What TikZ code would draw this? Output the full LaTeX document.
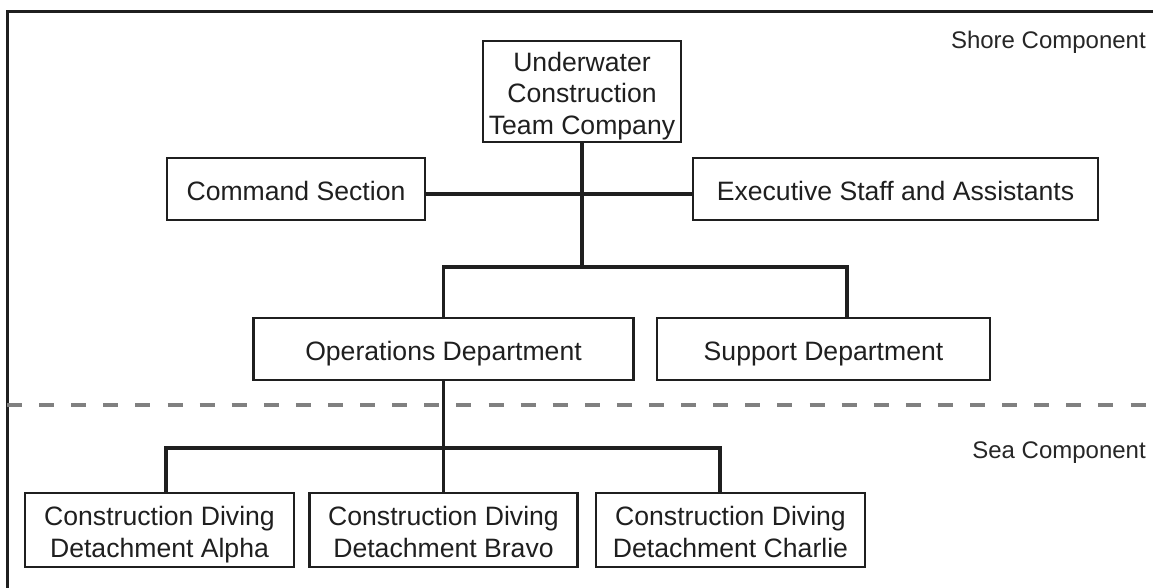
\documentclass[tikz,border=0pt]{standalone}
\usepackage{fontspec}
\setmainfont{Liberation Sans}
\begin{document}
\begin{tikzpicture}[x=1pt,y=-1pt,
  unitbox/.style={draw=black!88, line width=2.6pt, inner sep=0pt, align=center,
    text=black!88, text height=23pt, text depth=0pt,
    font=\fontsize{26.6}{31.7}\selectfont},
  twolines/.style={text height=54.2pt},
  threelines/.style={text height=86.4pt},
  link/.style={draw=black!88, line width=3.4pt},
  zonelabel/.style={anchor=east, inner sep=0pt, text=black!85,
    font=\fontsize{24}{28}\selectfont}]
\useasboundingbox (0,0) rectangle (1153,588);
\clip (0,0) rectangle (1153,588);

% outer frame (runs past the right and bottom edges)
\draw[black!88, line width=3pt] (7,12) rectangle (1175,610);

% shore / sea divider
\draw[black!50, line width=3.6pt, dash pattern=on 15pt off 17.1pt] (7,405) -- (1160,405);

% zone labels
\node[zonelabel] (shore) at (1146,42) {Shore Component};
\node[zonelabel] (sea) at (1146,453) {Sea Component};

% units
\node[unitbox, threelines, minimum width=198pt, minimum height=101pt] (top) at (582,91.5)
  {Underwater\\Construction\\Team Company};
\node[unitbox, minimum width=258pt, minimum height=62pt] (cmd) at (296,189) {Command Section};
\node[unitbox, minimum width=405pt, minimum height=62pt] (exec) at (895.5,189) {Executive Staff and Assistants};
\node[unitbox, minimum width=380pt, minimum height=62pt] (ops) at (443.5,349) {Operations Department};
\node[unitbox, minimum width=333pt, minimum height=62pt] (sup) at (823.5,349) {Support Department};
\node[unitbox, twolines, minimum width=269pt, minimum height=74pt] (alpha) at (159.5,530)
  {Construction Diving\\Detachment Alpha};
\node[unitbox, twolines, minimum width=268pt, minimum height=74pt] (bravo) at (443.5,530)
  {Construction Diving\\Detachment Bravo};
\node[unitbox, twolines, minimum width=269pt, minimum height=74pt] (charlie) at (730.5,530)
  {Construction Diving\\Detachment Charlie};

% junction points
\coordinate (j1) at (582,267);
\coordinate (j2) at (443.5,448);
\coordinate (sj) at ([xshift=23.5pt]sup.north);
\coordinate (aj) at ([xshift=6.5pt]alpha.north);
\coordinate (cj) at ([xshift=-10.5pt]charlie.north);

% connectors
\draw[link] (top.south) -- (j1);
\draw[link] ([yshift=-5pt]cmd.east) -- ([yshift=-5pt]exec.west);
\draw[link] (ops.north) |- (j1) -| (sj);
\draw[link] (ops.south) -- (bravo.north);
\draw[link] (aj) |- (j2) -| (cj);
\end{tikzpicture}
\end{document}
